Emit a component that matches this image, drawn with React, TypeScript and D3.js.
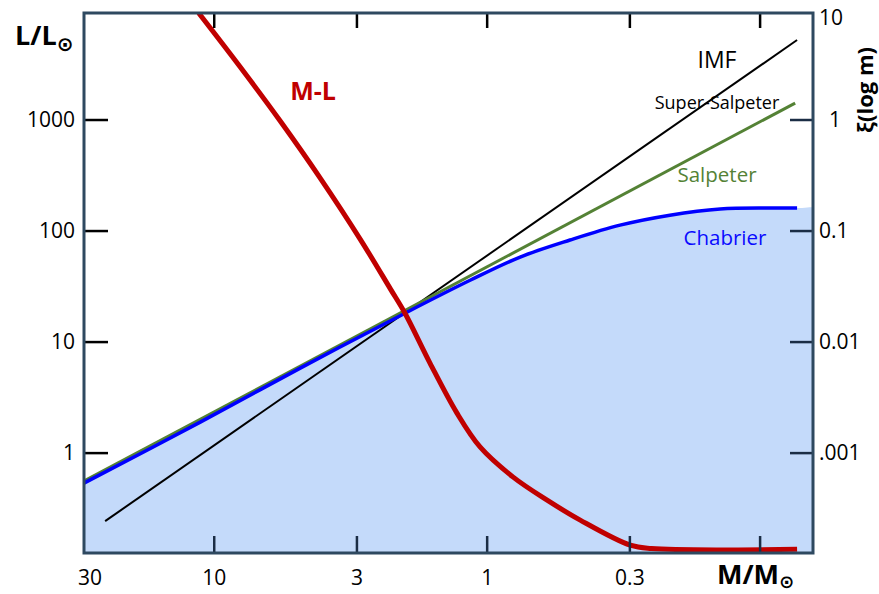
import React, { useEffect, useRef } from 'react';
import * as d3 from 'd3';

// mass (M/Msun) and L/Lsun
const mlMass = [11.4, 8.03, 5.73, 4.09, 2.92, 2.26, 2.0, 1.62, 1.29, 1.06, 0.803, 0.603, 0.456, 0.299, 0.25, 0.0732];
const mlLum = [9200, 3000, 979, 300, 84.7, 30.0, 18.2, 6.47, 2.29, 1.13, 0.608, 0.377, 0.249, 0.148, 0.138, 0.136];

// IMF curves, xi(log m) on the right axis
const superMass = [25.1, 0.0732];
const superXi = [0.000244, 5.25];

const salpeterMass = [30, 0.0744];
const salpeterXi = [0.00056, 1.42];

const chabrierMass = [30, 11.25, 4.84, 2.0, 1.15, 0.757, 0.497, 0.326, 0.214, 0.14, 0.0919, 0.0732];
const chabrierXi = [0.000537, 0.0019, 0.00583, 0.0182, 0.0362, 0.0583, 0.083, 0.113, 0.139, 0.158, 0.161, 0.161];

// shaded area under Chabrier runs on to the right frame
const fillEndMass = 0.064;
const fillEndXi = 0.165;

const xTickValues = [10, 3, 1, 0.3, 0.1];
const xLabelValues = [30, 10, 3, 1, 0.3];
const xLabelText = ['30', '10', '3', '1', '0.3'];
const yLeftTicks = [1000, 100, 10, 1];
const yLeftText = ['1000', '100', '10', '1'];
const yRightTicks = [1, 0.1, 0.01, 0.001];
const yRightLabels = [10, 1, 0.1, 0.01, 0.001];
const yRightText = ['10', '1', '0.1', '0.01', '.001'];

const W = 879;
const H = 594;
const left = 84;
const right = 813;
const top = 13;
const bottom = 553;
const FONT = "'Open Sans', sans-serif";

const App: React.FC = () => {
  const svgRef = useRef<SVGSVGElement | null>(null);

  useEffect(() => {
    if (!svgRef.current) return;
    const svg = d3.select(svgRef.current);
    svg.selectAll('*').remove();

    const x = d3.scaleLog().domain([30, 0.064]).range([left, right]);
    const y = d3.scaleLog().domain([0.126, 9200]).range([bottom, top]);
    const yR = d3.scaleLog().domain([0.000126, 9.2]).range([bottom, top]);

    svg
      .append('defs')
      .append('clipPath')
      .attr('id', 'plot-clip')
      .append('rect')
      .attr('x', left)
      .attr('y', top)
      .attr('width', right - left)
      .attr('height', bottom - top);

    const plot = svg.append('g').attr('clip-path', 'url(#plot-clip)');

    // blue shaded area
    const fillPts: [number, number][] = chabrierMass.map((m, i) => [m, chabrierXi[i]]);
    fillPts.push([fillEndMass, fillEndXi]);
    const area = d3
      .area<[number, number]>()
      .x((d) => x(d[0]))
      .y0(bottom)
      .y1((d) => yR(d[1]))
      .curve(d3.curveCatmullRom);
    plot.append('path').attr('d', area(fillPts)).attr('fill', '#c4dafa');

    const lineR = d3
      .line<[number, number]>()
      .x((d) => x(d[0]))
      .y((d) => yR(d[1]))
      .curve(d3.curveCatmullRom);
    const lineL = d3
      .line<[number, number]>()
      .x((d) => x(d[0]))
      .y((d) => y(d[1]))
      .curve(d3.curveCatmullRom);

    const zip = (a: number[], b: number[]) => a.map((v, i) => [v, b[i]] as [number, number]);

    plot
      .append('path')
      .attr('d', lineR(zip(superMass, superXi)))
      .attr('fill', 'none')
      .attr('stroke', '#000')
      .attr('stroke-width', 2);

    plot
      .append('path')
      .attr('d', lineR(zip(salpeterMass, salpeterXi)))
      .attr('fill', 'none')
      .attr('stroke', '#548235')
      .attr('stroke-width', 3);

    plot
      .append('path')
      .attr('d', lineR(zip(chabrierMass, chabrierXi)))
      .attr('fill', 'none')
      .attr('stroke', '#0000ff')
      .attr('stroke-width', 3.5);

    plot
      .append('path')
      .attr('d', lineL(zip(mlMass, mlLum)))
      .attr('fill', 'none')
      .attr('stroke', '#c00000')
      .attr('stroke-width', 5);

    // ticks (inward)
    const tickColor = '#1b2d45';
    svg
      .append('g')
      .selectAll('line')
      .data(yLeftTicks)
      .join('line')
      .attr('x1', left)
      .attr('x2', left + 24)
      .attr('y1', (d) => y(d))
      .attr('y2', (d) => y(d))
      .attr('stroke', '#000')
      .attr('stroke-width', 2.5);

    svg
      .append('g')
      .selectAll('line')
      .data(yRightTicks)
      .join('line')
      .attr('x1', right - 23)
      .attr('x2', right)
      .attr('y1', (d) => yR(d))
      .attr('y2', (d) => yR(d))
      .attr('stroke', tickColor)
      .attr('stroke-width', 2.5);

    svg
      .append('g')
      .selectAll('line')
      .data(xTickValues)
      .join('line')
      .attr('x1', (d) => x(d))
      .attr('x2', (d) => x(d))
      .attr('y1', bottom)
      .attr('y2', bottom - 17)
      .attr('stroke', tickColor)
      .attr('stroke-width', 2.5);

    svg
      .append('g')
      .selectAll('line')
      .data(xTickValues)
      .join('line')
      .attr('x1', (d) => x(d))
      .attr('x2', (d) => x(d))
      .attr('y1', top)
      .attr('y2', top + 15)
      .attr('stroke', '#000')
      .attr('stroke-width', 2.5);

    // frame
    svg
      .append('rect')
      .attr('x', left)
      .attr('y', top)
      .attr('width', right - left)
      .attr('height', bottom - top)
      .attr('fill', 'none')
      .attr('stroke', '#2e4960')
      .attr('stroke-width', 3);

    // tick labels
    svg
      .append('g')
      .selectAll('text')
      .data(yLeftTicks)
      .join('text')
      .attr('x', left - 9)
      .attr('y', (d) => y(d))
      .attr('dy', '0.35em')
      .attr('text-anchor', 'end')
      .style('font-family', FONT)
      .style('font-size', '21px')
      .text((_, i) => yLeftText[i]);

    svg
      .append('g')
      .selectAll('text')
      .data(yRightLabels)
      .join('text')
      .attr('x', (d) => (d === 1 ? right + 16 : right + 6))
      .attr('y', (d) => Math.max(yR(d), top + 5))
      .attr('dy', '0.35em')
      .attr('text-anchor', 'start')
      .style('font-family', FONT)
      .style('font-size', '21px')
      .text((_, i) => yRightText[i]);

    svg
      .append('g')
      .selectAll('text')
      .data(xLabelValues)
      .join('text')
      .attr('x', (d) => (d === 30 ? x(d) + 6 : x(d)))
      .attr('y', bottom + 32)
      .attr('text-anchor', 'middle')
      .style('font-family', FONT)
      .style('font-size', '21px')
      .text((_, i) => xLabelText[i]);

    // axis titles
    const lt = svg
      .append('text')
      .attr('x', 15)
      .attr('y', 45)
      .style('font-family', FONT)
      .style('font-size', '27px')
      .style('font-weight', 'bold')
      .text('L/L');
    lt.append('tspan')
      .attr('dy', 6)
      .style('font-family', "'DejaVu Sans', sans-serif")
      .style('font-size', '20px')
      .style('font-weight', 'bold')
      .text('⊙');

    const mt = svg
      .append('text')
      .attr('x', 717)
      .attr('y', 584)
      .style('font-family', FONT)
      .style('font-size', '27px')
      .style('font-weight', 'bold')
      .text('M/M');
    mt.append('tspan')
      .attr('dy', 4)
      .style('font-family', "'DejaVu Sans', sans-serif")
      .style('font-size', '18px')
      .style('font-weight', 'bold')
      .text('⊙');

    svg
      .append('text')
      .attr('transform', `translate(873, 90) rotate(-90)`)
      .attr('text-anchor', 'middle')
      .style('font-family', FONT)
      .style('font-size', '22px')
      .style('font-weight', 'bold')
      .text('ξ(log m)');

    // series labels
    const labels = [
      { text: 'M-L', x: 313, y: 100, size: 25, color: '#c00000', weight: 'bold' },
      { text: 'IMF', x: 717, y: 68, size: 23, color: '#000', weight: 'normal' },
      { text: 'Super-Salpeter', x: 717, y: 109, size: 18, color: '#000', weight: 'normal' },
      { text: 'Salpeter', x: 717, y: 182, size: 20.5, color: '#548235', weight: 'normal' },
      { text: 'Chabrier', x: 725, y: 245, size: 20.5, color: '#0a0aff', weight: 'normal' },
    ];
    svg
      .append('g')
      .selectAll('text')
      .data(labels)
      .join('text')
      .attr('x', (d) => d.x)
      .attr('y', (d) => d.y)
      .attr('text-anchor', 'middle')
      .style('font-family', FONT)
      .style('font-size', (d) => `${d.size}px`)
      .style('font-weight', (d) => d.weight)
      .attr('fill', (d) => d.color)
      .text((d) => d.text);
  }, []);

  return (
    <div style={{ position: 'absolute', left: 0, top: 0, width: W, height: H, background: '#fff' }}>
      <svg ref={svgRef} width={W} height={H} style={{ display: 'block' }}></svg>
    </div>
  );
};

export default App;
